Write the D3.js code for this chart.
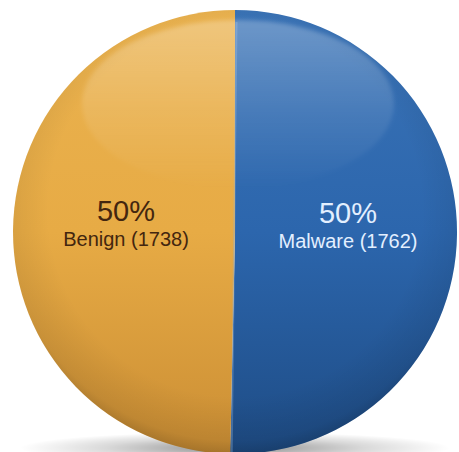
<!DOCTYPE html>
<html>
<head>
<meta charset="utf-8">
<script src="https://cdn.jsdelivr.net/npm/d3@7"></script>
<style>
  html, body { margin: 0; padding: 0; background: #fff; }
  svg { display: block; }
</style>
</head>
<body>
<script>
// Sample counts per class
const categories = ["Malware", "Benign"];
const counts = [1762, 1738];
const colors = {
  Malware: ["#3a73b6", "#2c66ad", "#1e4c85"],
  Benign:  ["#eab24f", "#e7ab45", "#cb8e34"]
};
const textColors = { Malware: "#e3efff", Benign: "#43260f" };

const W = 459, H = 452;
const cx = 235, cy = 232, R = 222;

const svg = d3.select("body").append("svg")
  .attr("width", W).attr("height", H);

const defs = svg.append("defs");

// Vertical shading per slice
categories.forEach(c => {
  const g = defs.append("linearGradient")
    .attr("id", "fill-" + c)
    .attr("x1", 0).attr("y1", 0).attr("x2", 0).attr("y2", 1);
  g.append("stop").attr("offset", "0%").attr("stop-color", colors[c][0]);
  g.append("stop").attr("offset", "50%").attr("stop-color", colors[c][1]);
  g.append("stop").attr("offset", "100%").attr("stop-color", colors[c][2]);
});

// Rim darkening over the whole disc
const rim = defs.append("radialGradient").attr("id", "rim")
  .attr("cx", "50%").attr("cy", "45%").attr("r", "56%");
rim.append("stop").attr("offset", "0%").attr("stop-color", "#000").attr("stop-opacity", 0);
rim.append("stop").attr("offset", "75%").attr("stop-color", "#000").attr("stop-opacity", 0);
rim.append("stop").attr("offset", "93%").attr("stop-color", "#000").attr("stop-opacity", 0.08);
rim.append("stop").attr("offset", "100%").attr("stop-color", "#000").attr("stop-opacity", 0.22);

// Glossy highlight
const gloss = defs.append("linearGradient").attr("id", "gloss")
  .attr("x1", 0).attr("y1", 0).attr("x2", 0).attr("y2", 1);
gloss.append("stop").attr("offset", "0%").attr("stop-color", "#fff").attr("stop-opacity", 0.26);
gloss.append("stop").attr("offset", "55%").attr("stop-color", "#fff").attr("stop-opacity", 0.1);
gloss.append("stop").attr("offset", "100%").attr("stop-color", "#fff").attr("stop-opacity", 0.0);

const soft = defs.append("filter").attr("id", "soft")
  .attr("x", "-10%").attr("y", "-10%").attr("width", "120%").attr("height", "120%");
soft.append("feGaussianBlur").attr("stdDeviation", 2);

// Floor shadow
const shadow = defs.append("radialGradient").attr("id", "shadow")
  .attr("cx", "50%").attr("cy", "50%").attr("r", "50%");
shadow.append("stop").attr("offset", "0%").attr("stop-color", "#000").attr("stop-opacity", 0.45);
shadow.append("stop").attr("offset", "60%").attr("stop-color", "#000").attr("stop-opacity", 0.15);
shadow.append("stop").attr("offset", "100%").attr("stop-color", "#000").attr("stop-opacity", 0);

svg.append("ellipse")
  .attr("cx", cx).attr("cy", 448).attr("rx", 215).attr("ry", 16)
  .attr("fill", "url(#shadow)");

const g = svg.append("g").attr("transform", `translate(${cx},${cy})`);

const data = categories.map((c, i) => ({ category: c, value: counts[i] }));
const total = d3.sum(counts);

const pie = d3.pie().value(d => d.value).sort(null);
const arc = d3.arc().innerRadius(0).outerRadius(R);

const arcs = pie(data);

g.selectAll("path.slice")
  .data(arcs)
  .join("path")
  .attr("class", "slice")
  .attr("d", arc)
  .attr("fill", d => `url(#fill-${d.data.category})`);

// Disc-wide shading
g.append("circle").attr("r", R).attr("fill", "url(#rim)");

// Seam between slices
g.selectAll("line.seam")
  .data(arcs.slice(0, 1))
  .join("line")
  .attr("class", "seam")
  .attr("x1", d => R * Math.sin(d.startAngle) + 1.5)
  .attr("y1", d => -R * Math.cos(d.startAngle) + 12)
  .attr("x2", d => R * Math.sin(d.endAngle) + 1.5)
  .attr("y2", d => -R * Math.cos(d.endAngle))
  .attr("stroke", "#8fb2d8").attr("stroke-opacity", 0.35).attr("stroke-width", 2);

// Highlight
g.append("ellipse")
  .attr("cx", 3).attr("cy", -128).attr("rx", 156).attr("ry", 84)
  .attr("fill", "url(#gloss)")
  .attr("filter", "url(#soft)");

// Labels
const fmtPct = v => Math.round(v / total * 100) + "%";
const lbl = g.selectAll("g.label")
  .data(arcs)
  .join("g")
  .attr("class", "label")
  .attr("transform", d => {
    const [x, y] = arc.centroid(d);
    return `translate(${x + 2},${y})`;
  })
  .attr("text-anchor", "middle")
  .attr("font-family", "Liberation Sans, Arial, sans-serif")
  .attr("fill", d => textColors[d.data.category]);

lbl.append("text")
  .attr("y", -10)
  .attr("font-size", 29)
  .text(d => fmtPct(d.data.value));

lbl.append("text")
  .attr("y", 15)
  .attr("font-size", 20)
  .text(d => `${d.data.category} (${d.data.value})`);
</script>
</body>
</html>
